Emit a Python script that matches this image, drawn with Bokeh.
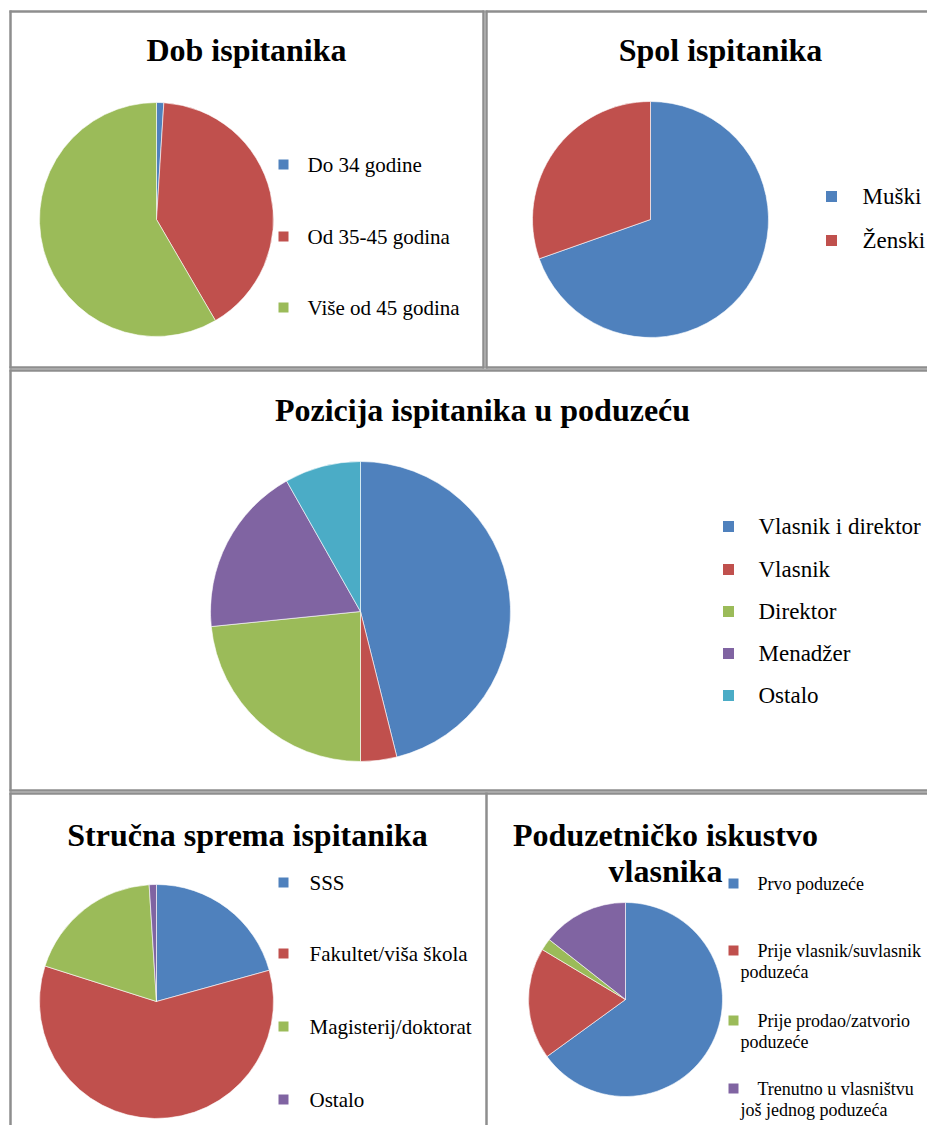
import math
from bokeh.plotting import figure
from bokeh.models import Range1d, ColumnDataSource
from bokeh.core.properties import value
from bokeh.embed import file_html
from bokeh.resources import INLINE

# ---------------- data ----------------
colors = ["#4F81BD", "#C0504D", "#9BBB59", "#8064A2", "#4BACC6"]

dob_title = "Dob ispitanika"
dob_labels = ["Do 34 godine", "Od 35-45 godina", "Više od 45 godina"]
dob_values = [1.0, 40.6, 58.4]

spol_title = "Spol ispitanika"
spol_labels = ["Muški", "Ženski"]
spol_values = [69.6, 30.4]

poz_title = "Pozicija ispitanika u poduzeću"
poz_labels = ["Vlasnik i direktor", "Vlasnik", "Direktor", "Menadžer", "Ostalo"]
poz_values = [46.1, 3.9, 23.4, 18.4, 8.2]

str_title = "Stručna sprema ispitanika"
str_labels = ["SSS", "Fakultet/viša škola", "Magisterij/doktorat", "Ostalo"]
str_values = [20.7, 59.2, 19.1, 1.0]

pod_title = "Poduzetničko iskustvo\nvlasnika"
pod_labels = ["Prvo poduzeće", "Prije vlasnik/suvlasnik\npoduzeća",
              "Prije prodao/zatvorio\npoduzeće", "Trenutno u vlasništvu\njoš jednog poduzeća"]
pod_values = [65.0, 18.6, 2.0, 14.4]

# ---------------- figure ----------------
W, H = 927, 1125
p = figure(width=W, height=H, output_backend="svg", toolbar_location=None,
           x_range=Range1d(0, W), y_range=Range1d(-H, 0),
           x_axis_type=None, y_axis_type=None, min_border=0)
p.grid.visible = False
p.outline_line_color = None
p.background_fill_color = "white"

FONT = value("Liberation Serif")


def Y(v):
    return -v


def pie(cx, cy, r, vals):
    total = float(sum(vals))
    starts, ends = [], []
    cum = 0.0
    for v in vals:
        starts.append(math.pi / 2 - 2 * math.pi * cum / total)
        cum += v
        ends.append(math.pi / 2 - 2 * math.pi * cum / total)
    src = ColumnDataSource(dict(x=[cx] * len(vals), y=[Y(cy)] * len(vals),
                                s=starts, e=ends, c=colors[:len(vals)]))
    p.wedge(x="x", y="y", radius=r, start_angle="s", end_angle="e",
            direction="clock", fill_color="c", line_color="white",
            line_width=0.6, source=src)


def title(x, y, txt, size="32px"):
    lines = txt.split("\n")
    for i, ln in enumerate(lines):
        p.text(x=[x], y=[Y(y + i * 36)], text=[ln], text_font=FONT,
               text_font_size=value(size), text_font_style="bold",
               text_align="center", text_baseline="middle", text_color="black")


def legend(sx, ys, tx, labels, size, sq=10, tx2=None, lh=20):
    for i, (lab, yy) in enumerate(zip(labels, ys)):
        p.rect(x=[sx], y=[Y(yy)], width=sq, height=sq, fill_color=colors[i],
               line_color=None)
        lines = lab.split("\n")
        for j, ln in enumerate(lines):
            xx = tx if j == 0 else (tx2 if tx2 is not None else tx)
            p.text(x=[xx], y=[Y(yy + j * lh)], text=[ln], text_font=FONT,
                   text_font_size=value(size), text_align="left",
                   text_baseline="middle", text_color="black")


def hline(x0, x1, y):
    p.line([x0, x1], [Y(y), Y(y)], line_color="#8e8e8e", line_width=2.5)


def vline(x, y0, y1):
    p.line([x, x], [Y(y0), Y(y1)], line_color="#8e8e8e", line_width=2.5)


# ---------------- panel borders ----------------
# top row
hline(9, 484, 11); hline(9, 484, 367); vline(10, 10, 368); vline(483, 10, 368)
hline(485, 950, 11); hline(485, 950, 367); vline(486, 10, 368)
# middle
hline(9, 950, 370); hline(9, 950, 790); vline(10, 369, 791)
# bottom row
hline(9, 950, 793); vline(10, 792, 1150); vline(486, 792, 1150)

# ---------------- panel 1: Dob ----------------
title(246, 49, dob_title)
pie(156, 219, 117, dob_values)
legend(283, [164, 236, 307], 307, dob_labels, "21px")

# ---------------- panel 2: Spol ----------------
title(720, 49, spol_title)
pie(650, 219, 118, spol_values)
legend(831, [196, 240], 862, spol_labels, "23px", sq=11)

# ---------------- panel 3: Pozicija ----------------
title(482, 409, poz_title)
pie(360, 611, 150, poz_values)
legend(728, [526, 569, 611, 653, 695], 758, poz_labels, "23px", sq=11)

# ---------------- panel 4: Strucna sprema ----------------
title(247, 834, str_title)
pie(156, 1001, 117, str_values)
legend(283, [882, 953, 1026, 1099], 309, str_labels, "21px")

# ---------------- panel 5: Poduzetnicko iskustvo ----------------
title(665, 834, pod_title)
pie(625, 999, 97, pod_values)
legend(733, [883, 950, 1020, 1088], 757, pod_labels, "18px", tx2=740, lh=21)

open("out.html", "w").write(file_html(p, INLINE))
